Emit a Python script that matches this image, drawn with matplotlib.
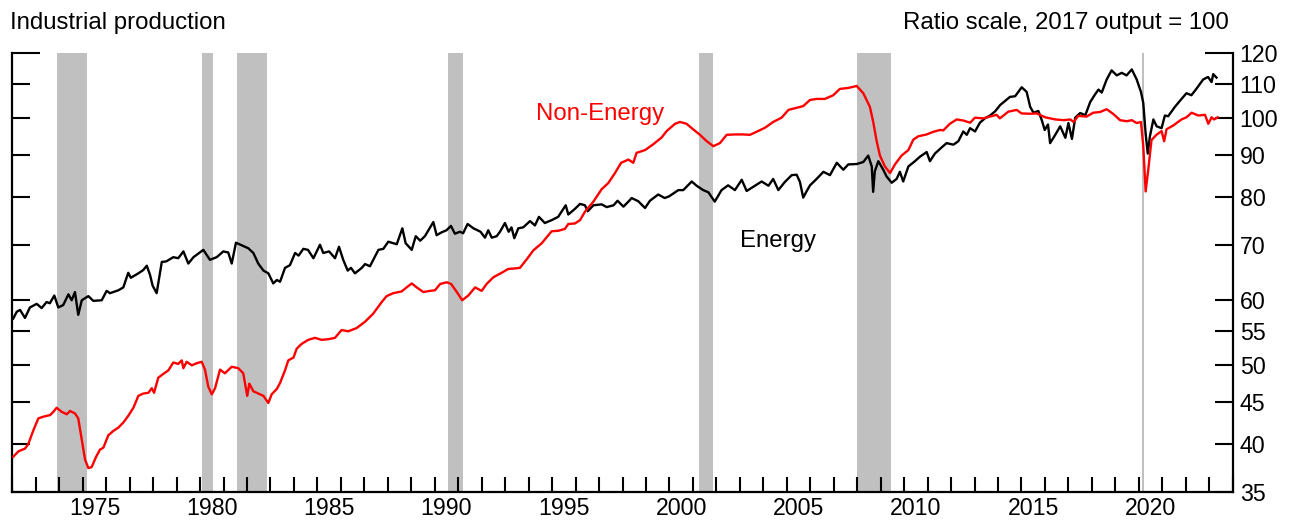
import matplotlib
matplotlib.use("Agg")
import matplotlib.pyplot as plt
from matplotlib.ticker import FixedLocator, NullLocator, NullFormatter, FixedFormatter

plt.rcParams["font.family"] = ["Liberation Sans", "DejaVu Sans"]

# recessions (start, end) in decimal years
recessions = [(1973.92, 1975.2), (1980.1, 1980.55), (1981.58, 1982.87),
              (1990.58, 1991.19), (2001.25, 2001.87), (2007.98, 2009.45),
              (2020.14, 2020.24)]

energy_t = [1972.04, 1972.19, 1972.33, 1972.54, 1972.75, 1973.04, 1973.25, 1973.46, 1973.6, 1973.79,
            1973.96, 1974.17, 1974.39, 1974.53, 1974.67, 1974.81, 1974.96, 1975.24, 1975.45, 1975.81,
            1976.02, 1976.16, 1976.52, 1976.73, 1976.94, 1977.05, 1977.37, 1977.58, 1977.73, 1977.87,
            1977.98, 1978.15, 1978.37, 1978.56, 1978.86, 1979.07, 1979.29, 1979.5, 1979.72, 1979.93,
            1980.14, 1980.42, 1980.71, 1980.99, 1981.2, 1981.35, 1981.53, 1981.77, 1982.06, 1982.27,
            1982.48, 1982.7, 1982.91, 1983.12, 1983.27, 1983.41, 1983.62, 1983.83, 1984.05, 1984.2,
            1984.4, 1984.6, 1984.83, 1985.11, 1985.25, 1985.5, 1985.75, 1985.92, 1986.1, 1986.29,
            1986.43, 1986.6, 1986.89, 1987.03, 1987.24, 1987.6, 1987.81, 1988.02, 1988.38, 1988.62,
            1988.76, 1989.02, 1989.19, 1989.38, 1989.58, 1989.94, 1990.08, 1990.3, 1990.5, 1990.69,
            1990.86, 1991.07, 1991.21, 1991.4, 1991.65, 1991.95, 1992.14, 1992.28, 1992.43, 1992.64,
            1992.78, 1992.99, 1993.15, 1993.27, 1993.39, 1993.56, 1993.77, 1994.06, 1994.27, 1994.44,
            1994.69, 1994.98, 1995.26, 1995.58, 1995.69, 1995.97, 1996.19, 1996.4, 1996.52, 1996.76,
            1997.11, 1997.33, 1997.62, 1997.79, 1998.04, 1998.25, 1998.39, 1998.67, 1998.96, 1999.17,
            1999.52, 1999.8, 1999.99, 2000.38, 2000.59, 2000.95, 2001.16, 2001.44, 2001.66, 2001.93,
            2002.22, 2002.5, 2002.79, 2003.08, 2003.29, 2003.58, 2003.93, 2004.22, 2004.42, 2004.64,
            2004.92, 2005.21, 2005.42, 2005.56, 2005.7, 2005.84, 2005.99, 2006.27, 2006.56, 2006.84,
            2007.13, 2007.41, 2007.62, 2007.98, 2008.26, 2008.47, 2008.62, 2008.68, 2008.75, 2008.9,
            2009.11, 2009.25, 2009.47, 2009.68, 2009.82, 2009.96, 2010.18, 2010.46, 2010.67, 2010.96,
            2011.1, 2011.31, 2011.6, 2011.81, 2012.1, 2012.31, 2012.52, 2012.67, 2012.81, 2013.02,
            2013.23, 2013.44, 2013.66, 2013.88, 2014.09, 2014.3, 2014.51, 2014.73, 2015.01, 2015.22,
            2015.37, 2015.51, 2015.72, 2015.87, 2015.99, 2016.13, 2016.22, 2016.44, 2016.65, 2016.87,
            2017.0, 2017.15, 2017.29, 2017.5, 2017.72, 2017.93, 2018.14, 2018.28, 2018.42, 2018.63,
            2018.84, 2019.06, 2019.27, 2019.48, 2019.7, 2019.91, 2020.09, 2020.19, 2020.29, 2020.38,
            2020.47, 2020.62, 2020.76, 2020.97, 2021.11, 2021.25, 2021.54, 2021.82, 2022.03, 2022.24,
            2022.46, 2022.74, 2022.95, 2023.1, 2023.17, 2023.31]
energy_v = [56.9, 58.0, 58.3, 57.0, 58.7, 59.3, 58.6, 59.6, 59.4, 60.7,
            58.7, 59.1, 60.9, 59.9, 61.3, 57.5, 59.9, 60.6, 59.8, 59.9,
            61.5, 61.1, 61.6, 62.1, 64.7, 63.8, 64.6, 65.2, 66.0, 64.3,
            62.4, 61.1, 66.7, 66.8, 67.6, 67.4, 68.7, 66.4, 67.6, 68.3,
            69.0, 67.1, 67.6, 68.7, 68.5, 66.4, 70.4, 69.9, 69.3, 68.4,
            66.4, 65.1, 64.6, 62.8, 63.4, 63.1, 65.6, 66.1, 68.4, 67.9,
            69.2, 69.0, 67.4, 70.0, 68.4, 68.7, 67.4, 69.6, 67.1, 65.1,
            65.6, 64.6, 65.6, 66.3, 65.9, 69.0, 69.2, 70.6, 70.1, 73.3,
            70.3, 69.0, 71.7, 70.8, 71.7, 74.6, 71.9, 72.5, 72.9, 73.8,
            72.2, 72.6, 72.3, 74.2, 73.3, 72.6, 71.4, 72.9, 71.4, 71.7,
            72.6, 74.4, 72.6, 73.5, 71.3, 73.3, 73.5, 74.8, 73.9, 75.7,
            74.4, 75.0, 75.7, 78.2, 76.2, 77.4, 78.5, 78.2, 76.9, 78.2,
            78.4, 77.8, 78.2, 79.2, 77.9, 79.0, 79.8, 79.1, 77.6, 79.2,
            80.6, 79.8, 80.2, 81.6, 81.6, 83.6, 82.6, 81.6, 81.1, 79.0,
            81.6, 82.7, 81.6, 84.0, 81.4, 82.4, 83.6, 82.6, 84.2, 81.6,
            83.5, 85.1, 85.2, 83.5, 79.9, 81.3, 82.7, 84.2, 85.9, 85.1,
            88.1, 86.4, 87.7, 87.8, 88.3, 89.9, 87.2, 81.2, 86.0, 88.5,
            86.4, 84.8, 83.3, 84.2, 85.9, 83.6, 87.2, 88.5, 89.6, 90.8,
            88.5, 90.4, 92.0, 93.1, 92.7, 93.6, 96.2, 95.3, 97.1, 96.2,
            98.6, 99.8, 100.6, 101.8, 103.6, 104.8, 106.0, 106.2, 108.9, 107.5,
            103.1, 101.4, 101.9, 99.2, 96.6, 98.1, 93.1, 95.3, 97.6, 94.5,
            98.5, 94.2, 100.0, 101.3, 100.7, 104.5, 106.8, 108.2, 107.3, 111.3,
            114.2, 112.6, 113.4, 112.6, 114.5, 111.3, 107.5, 104.2, 95.6, 90.4,
            94.8, 99.5, 97.6, 97.1, 100.6, 100.4, 103.1, 105.4, 107.1, 106.5,
            108.5, 111.3, 112.1, 110.5, 113.0, 111.9]

nonenergy_t = [1972.04, 1972.26, 1972.54, 1972.68, 1972.9, 1973.11, 1973.32, 1973.61, 1973.75, 1973.89,
               1974.1, 1974.32, 1974.46, 1974.67, 1974.81, 1974.96, 1975.1, 1975.24, 1975.38, 1975.57,
               1975.74, 1975.88, 1976.09, 1976.3, 1976.52, 1976.73, 1976.94, 1977.16, 1977.37, 1977.58,
               1977.8, 1977.94, 1978.04, 1978.22, 1978.43, 1978.65, 1978.86, 1979.07, 1979.22, 1979.29,
               1979.43, 1979.65, 1979.86, 1980.07, 1980.21, 1980.35, 1980.5, 1980.64, 1980.85, 1981.06,
               1981.35, 1981.63, 1981.84, 1982.01, 1982.1, 1982.27, 1982.48, 1982.7, 1982.91, 1983.05,
               1983.27, 1983.41, 1983.62, 1983.76, 1983.98, 1984.12, 1984.33, 1984.61, 1984.9, 1985.18,
               1985.47, 1985.75, 1986.03, 1986.31, 1986.67, 1987.03, 1987.38, 1987.74, 1987.95, 1988.23,
               1988.59, 1988.8, 1989.02, 1989.23, 1989.51, 1989.8, 1990.01, 1990.23, 1990.51, 1990.7,
               1990.94, 1991.17, 1991.43, 1991.72, 1992.0, 1992.21, 1992.5, 1992.85, 1993.13, 1993.42,
               1993.63, 1993.92, 1994.2, 1994.56, 1994.98, 1995.27, 1995.55, 1995.69, 1995.97, 1996.19,
               1996.4, 1996.76, 1997.11, 1997.39, 1997.68, 1997.94, 1998.25, 1998.46, 1998.6, 1998.96,
               1999.31, 1999.67, 1999.88, 2000.24, 2000.45, 2000.73, 2000.95, 2001.3, 2001.59, 2001.87,
               2002.15, 2002.44, 2002.79, 2003.14, 2003.43, 2003.71, 2004.07, 2004.42, 2004.78, 2005.07,
               2005.35, 2005.7, 2005.99, 2006.27, 2006.62, 2006.98, 2007.26, 2007.62, 2007.98, 2008.26,
               2008.54, 2008.68, 2008.83, 2008.97, 2009.18, 2009.4, 2009.61, 2009.89, 2010.18, 2010.39,
               2010.6, 2010.96, 2011.24, 2011.53, 2011.67, 2011.95, 2012.24, 2012.52, 2012.81, 2013.02,
               2013.37, 2013.66, 2013.94, 2014.08, 2014.44, 2014.8, 2015.0, 2015.37, 2015.65, 2016.01,
               2016.44, 2016.8, 2017.08, 2017.22, 2017.42, 2017.77, 2018.06, 2018.35, 2018.63, 2018.92,
               2019.2, 2019.48, 2019.7, 2019.91, 2020.09, 2020.19, 2020.29, 2020.4, 2020.54, 2020.75,
               2020.97, 2021.08, 2021.18, 2021.46, 2021.82, 2022.03, 2022.25, 2022.53, 2022.82, 2022.96,
               2023.1, 2023.21, 2023.36]
nonenergy_v = [38.6, 39.2, 39.5, 40.0, 41.6, 43.0, 43.2, 43.4, 43.8, 44.3,
               43.8, 43.5, 43.9, 43.6, 43.0, 40.5, 38.3, 37.4, 37.5, 38.6,
               39.4, 39.6, 41.0, 41.5, 41.9, 42.5, 43.3, 44.3, 45.8, 46.1,
               46.2, 46.8, 46.2, 48.2, 48.7, 49.2, 50.3, 50.1, 50.6, 49.5,
               50.4, 49.9, 50.2, 50.4, 49.3, 47.0, 46.0, 46.8, 49.3, 48.8,
               49.7, 49.5, 48.8, 45.8, 47.4, 46.4, 46.1, 45.8, 44.9, 46.0,
               46.7, 47.5, 49.2, 50.6, 51.0, 52.3, 53.0, 53.6, 53.9, 53.6,
               53.7, 53.9, 55.1, 54.9, 55.4, 56.4, 57.7, 59.6, 60.6, 61.1,
               61.4, 62.1, 62.8, 62.1, 61.3, 61.5, 61.6, 62.7, 63.0, 62.7,
               61.3, 59.9, 60.7, 62.1, 61.5, 62.7, 63.9, 64.7, 65.4, 65.5,
               65.6, 67.2, 68.9, 70.3, 72.7, 72.8, 73.2, 74.2, 74.3, 75.0,
               76.8, 79.0, 81.8, 83.2, 85.6, 88.1, 88.9, 88.1, 90.6, 91.3,
               92.8, 94.6, 96.3, 98.3, 98.8, 98.3, 97.1, 95.3, 93.6, 92.3,
               93.1, 95.3, 95.4, 95.4, 95.3, 96.1, 97.2, 98.8, 100.0, 102.2,
               102.7, 103.3, 105.1, 105.4, 105.4, 106.5, 108.4, 108.7, 109.3, 107.1,
               103.1, 98.9, 93.6, 89.9, 87.2, 85.6, 87.7, 89.9, 91.3, 94.0,
               94.9, 95.4, 96.1, 96.6, 96.5, 98.3, 99.5, 99.2, 98.6, 100.0,
               99.8, 100.3, 100.8, 99.8, 101.7, 102.2, 101.2, 101.1, 101.2, 100.1,
               99.5, 99.3, 99.5, 98.8, 100.5, 100.3, 101.4, 101.6, 102.4, 101.0,
               99.3, 99.0, 99.3, 98.5, 98.8, 92.3, 81.3, 86.3, 93.9, 95.3,
               96.3, 93.6, 96.8, 97.8, 99.5, 100.1, 101.4, 100.6, 100.8, 98.3,
               100.1, 99.5, 100.1]

y_ticks = [35, 40, 45, 50, 55, 60, 70, 80, 90, 100, 110, 120]
year_labels = [1975, 1980, 1985, 1990, 1995, 2000, 2005, 2010, 2015, 2020]

W, H = 1294, 525
fig = plt.figure(figsize=(W / 100, H / 100), dpi=100)
ax = fig.add_axes([12.3 / W, 1 - 491.7 / H, (1232.7 - 12.3) / W, (491.7 - 52.7) / H])

for a, b in recessions:
    ax.axvspan(a, b, color="#c0c0c0", lw=0, zorder=1)

ax.plot(energy_t, energy_v, color="black", lw=1.7, zorder=3)
ax.plot(nonenergy_t, nonenergy_v, color="#ff0000", lw=1.7, zorder=3)

ax.set_yscale("log")
ax.set_ylim(35, 120)
ax.set_xlim(1972, 2024)

ax.yaxis.set_major_locator(FixedLocator(y_ticks))
ax.yaxis.set_major_formatter(FixedFormatter([str(v) for v in y_ticks]))
ax.yaxis.set_minor_locator(NullLocator())
ax.tick_params(axis="y", which="major", direction="in", length=13, width=1.5,
               left=True, right=True, labelleft=False, labelright=True,
               labelsize=16.7, pad=5)
yt = ax.yaxis.get_major_ticks()[-1]
yt.tick1line.set_markersize(20)
yt.tick2line.set_markersize(20)

ax.xaxis.set_major_locator(FixedLocator(list(range(1972, 2025))))
ax.xaxis.set_major_formatter(NullFormatter())
ax.xaxis.set_minor_locator(FixedLocator([y + 0.5 for y in year_labels]))
ax.xaxis.set_minor_formatter(FixedFormatter([str(y) for y in year_labels]))
ax.tick_params(axis="x", which="major", direction="in", length=11, width=1.5, top=False)
ax.tick_params(axis="x", which="minor", length=0, labelsize=16.7, pad=4)

ax.spines["top"].set_visible(False)
for s in ("left", "right", "bottom"):
    ax.spines[s].set_linewidth(1.6)

ax.text(1994.3, 99.4, "Non-Energy", color="#ff0000", fontsize=17.3, va="baseline", ha="left")
ax.text(2003.0, 69.5, "Energy", color="black", fontsize=17.3, va="baseline", ha="left")

fig.text(10 / W, 1 - 28.5 / H, "Industrial production", fontsize=17.3, va="baseline", ha="left")
fig.text(1229 / W, 1 - 28.5 / H, "Ratio scale, 2017 output = 100", fontsize=17.3,
         va="baseline", ha="right")

fig.savefig("out.png", dpi=100)
